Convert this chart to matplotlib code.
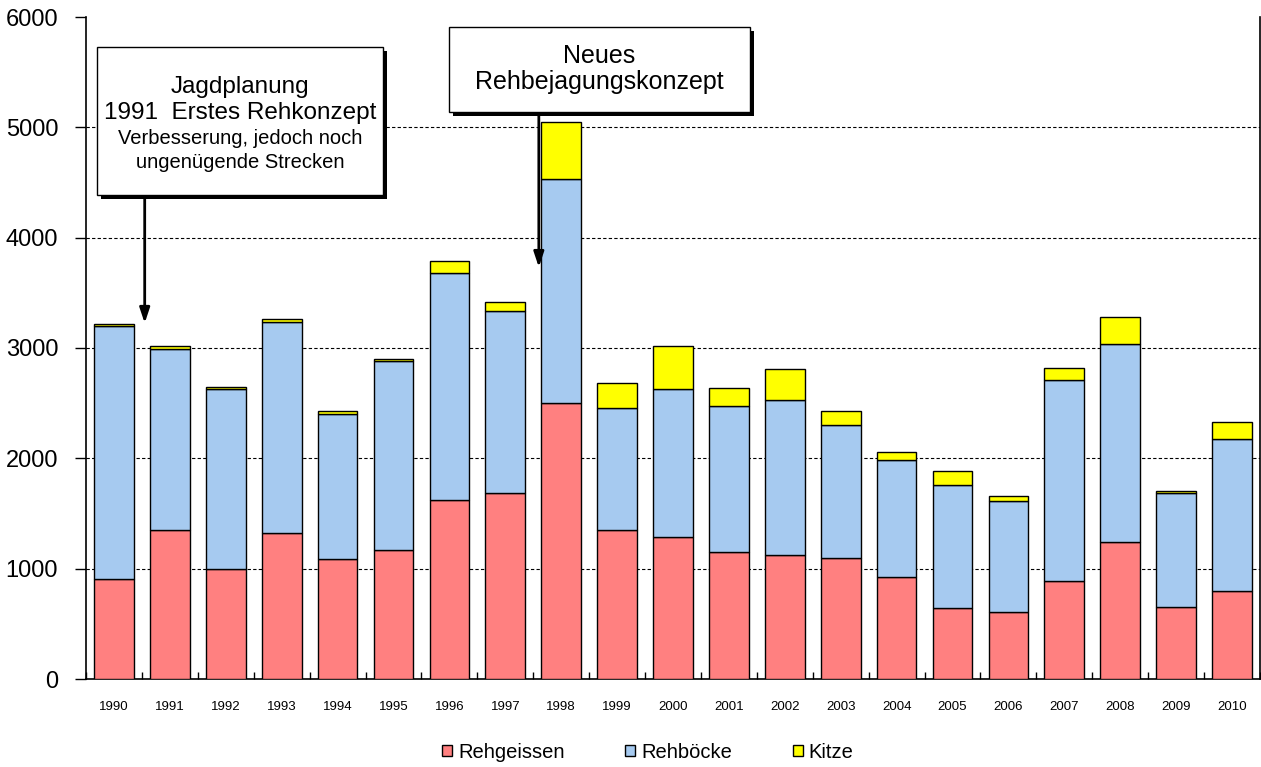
import matplotlib
matplotlib.use('Agg')
import matplotlib.pyplot as plt
from matplotlib.patches import Rectangle
import numpy as np

plt.rcParams['font.family'] = ['Liberation Sans', 'DejaVu Sans']

years = [str(y) for y in range(1990, 2011)]
rehgeissen = [910, 1350, 1000, 1325, 1085, 1170, 1620, 1685, 2505, 1350, 1285,
              1155, 1120, 1095, 925, 640, 605, 890, 1240, 655, 800]
rehboecke = [2290, 1640, 1628, 1910, 1314, 1710, 2063, 1650, 2027, 1109, 1341,
             1319, 1412, 1210, 1057, 1115, 1008, 1820, 1796, 1028, 1375]
kitze = [15, 28, 22, 27, 28, 23, 108, 85, 517, 221, 389,
         166, 278, 124, 73, 130, 49, 109, 242, 24, 157]

c_red = '#FF8080'
c_blue = '#A6CAF0'
c_yel = '#FFFF00'

fig = plt.figure(figsize=(12.61, 7.67), dpi=100)
ax = fig.add_axes([86/1261, 88/767, 1174/1261, 662/767])

x = np.arange(len(years))
w = 0.71
r = np.array(rehgeissen)
b = np.array(rehboecke)
k = np.array(kitze)
ax.bar(x, r, w, color=c_red, edgecolor='black', linewidth=1, label='Rehgeissen', zorder=3)
ax.bar(x, b, w, bottom=r, color=c_blue, edgecolor='black', linewidth=1, label='Rehböcke', zorder=3)
ax.bar(x, k, w, bottom=r + b, color=c_yel, edgecolor='black', linewidth=1, label='Kitze', zorder=3)

ax.set_xlim(-0.5, len(years) - 0.5)
ax.set_ylim(0, 6000)
ax.set_yticks(range(0, 6001, 1000))
ax.tick_params(axis='y', labelsize=17, length=8, width=1, pad=12)
ax.set_xticks(x)
ax.set_xticklabels(years, fontsize=9.5)
ax.tick_params(axis='x', length=0, pad=16)
ax.set_xticks(np.arange(-0.5, len(years), 1), minor=True)
ax.tick_params(axis='x', which='minor', direction='in', length=5, width=1)

for yv in range(1000, 6000, 1000):
    ax.axhline(yv, color='black', linestyle=(0, (3, 2)), linewidth=0.8, zorder=1)

ax.spines['top'].set_visible(False)
for s in ['left', 'bottom', 'right']:
    ax.spines[s].set_linewidth(1.2)

# annotation boxes with shadow
def box(x0, x1, y0, y1):
    dx, dy = 0.07, 36
    ax.add_patch(Rectangle((x0 + dx, y0 - dy), x1 - x0, y1 - y0, facecolor='black',
                           edgecolor='none', zorder=5, clip_on=False))
    ax.add_patch(Rectangle((x0, y0), x1 - x0, y1 - y0, facecolor='white',
                           edgecolor='black', linewidth=1, zorder=6, clip_on=False))

box(-0.30, 4.81, 4387, 5728)
box(5.99, 11.37, 5139, 5909)

cx1 = (-0.30 + 4.81) / 2
ax.text(cx1, 5370, 'Jagdplanung', fontsize=17.5, ha='center', va='center', zorder=7)
ax.text(cx1, 5130, '1991  Erstes Rehkonzept', fontsize=17.5, ha='center', va='center', zorder=7)
ax.text(cx1, 4900, 'Verbesserung, jedoch noch', fontsize=14.5, ha='center', va='center', zorder=7)
ax.text(cx1, 4685, 'ungenügende Strecken', fontsize=14.5, ha='center', va='center', zorder=7)

cx2 = (5.99 + 11.37) / 2
ax.text(cx2, 5650, 'Neues', fontsize=18, ha='center', va='center', zorder=7)
ax.text(cx2, 5410, 'Rehbejagungskonzept', fontsize=18, ha='center', va='center', zorder=7)

arrow = dict(arrowstyle='-|>,head_length=0.9,head_width=0.3', color='black', lw=2)
ax.annotate('', xy=(0.55, 3200), xytext=(0.55, 4387), arrowprops=arrow, zorder=4)
ax.annotate('', xy=(7.6, 3707), xytext=(7.6, 5139), arrowprops=arrow, zorder=4)

fig.legend(loc='center', bbox_to_anchor=(648/1261, 15/767), ncol=3, frameon=False,
           fontsize=14.5, handlelength=0.5, handleheight=0.5, handletextpad=0.3,
           columnspacing=3.0)

fig.savefig('out.png', dpi=100)
